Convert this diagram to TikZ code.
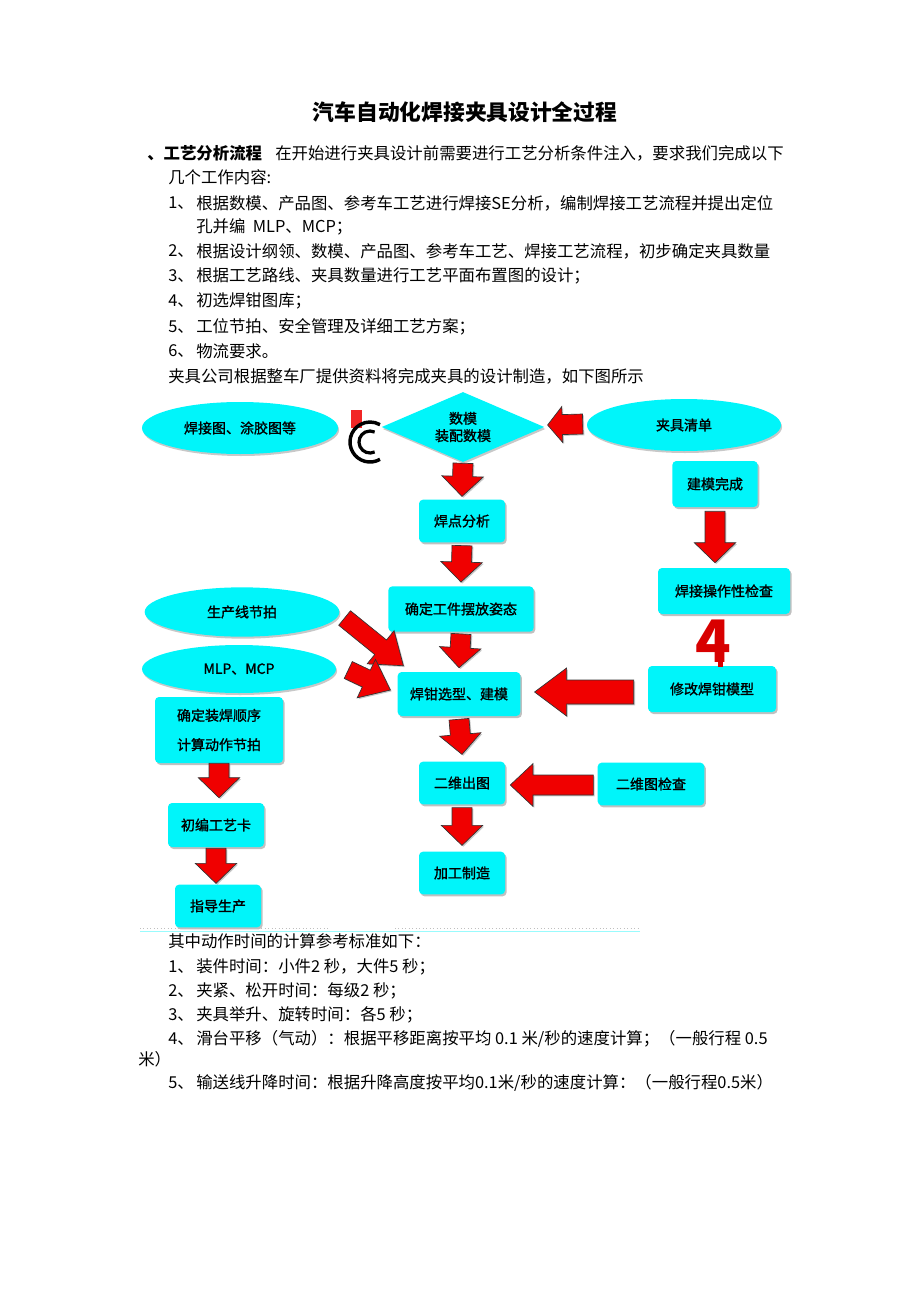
\documentclass[tikz,border=0pt]{standalone}
\usepackage{fontspec}
\newfontfamily\cjk{Noto Sans CJK SC}
\newfontfamily\cjkm[FakeBold=1.3]{Noto Sans CJK SC}
\usetikzlibrary{calc,shapes.geometric,shadows}
\definecolor{mycyan}{RGB}{0,245,250}
\definecolor{myred}{RGB}{240,0,0}
\newcommand{\blockarrow}[5]{%
  \path (#2) coordinate (ba-tip) ($(#2)!#5!(#1)$) coordinate (ba-base);
  \filldraw[redarrow]
   ($(#1)!#3!90:(#2)$) --
   ($(ba-base)!#3!90:(#2)$) --
   ($(ba-base)!#4!90:(#2)$) --
   (#2) --
   ($(ba-base)!#4!-90:(#2)$) --
   ($(ba-base)!#3!-90:(#2)$) --
   ($(#1)!#3!-90:(#2)$) -- cycle;}
\tikzset{
  txt/.style={anchor=west, inner sep=0, font=\cjk\fontsize{12.3}{14}\selectfont},
  boxst/.style={rectangle, rounded corners=3pt, fill=mycyan, inner sep=1pt,
     align=center, font=\cjkm\fontsize{10.5}{16}\selectfont,
     drop shadow={shadow xshift=1.2pt, shadow yshift=-1.5pt, opacity=0.35, fill=black!70}},
  ellst/.style={ellipse, fill=mycyan, inner sep=0pt,
     font=\cjkm\fontsize{10.5}{13}\selectfont,
     drop shadow={shadow xshift=0.8pt, shadow yshift=-1.5pt, opacity=0.3, fill=black!70}},
  redarrow/.style={fill=myred, draw=black!80, line width=0.5pt, line join=miter,
     drop shadow={shadow xshift=1pt, shadow yshift=-1pt, opacity=0.3, fill=black!70}},
}
\begin{document}
\begin{tikzpicture}[x=0.75pt,y=-0.75pt]
\useasboundingbox (0,0) rectangle (920,1302);
\fill[white] (0,0) rectangle (920,1302);

% ---------- title and top text ----------
\node[inner sep=0, font=\cjk\bfseries\fontsize{16.3}{18}\selectfont] (title) at (465,112) {汽车自动化焊接夹具设计全过程};
\node[txt, font=\cjk\bfseries\fontsize{12.3}{14}\selectfont] (t0) at (147,153) {、工艺分析流程};
\node[txt] (t0b) at (275,153) {在开始进行夹具设计前需要进行工艺分析条件注入，要求我们完成以下};
\node[txt] (t1) at (168,177) {几个工作内容:};
\node[txt] (n1) at (168,203) {1、};
\node[txt] (t2) at (196,203) {根据数模、产品图、参考车工艺进行焊接SE分析，编制焊接工艺流程并提出定位};
\node[txt] (t3) at (196,227) {孔并编\ \ MLP、MCP；};
\node[txt] (n2) at (168,251) {2、};
\node[txt] (t4) at (196,251) {根据设计纲领、数模、产品图、参考车工艺、焊接工艺流程，初步确定夹具数量};
\node[txt] (n3) at (168,276) {3、};
\node[txt] (t5) at (196,276) {根据工艺路线、夹具数量进行工艺平面布置图的设计；};
\node[txt] (n4) at (168,301) {4、};
\node[txt] (t6) at (196,301) {初选焊钳图库；};
\node[txt] (n5) at (168,327) {5、};
\node[txt] (t7) at (196,327) {工位节拍、安全管理及详细工艺方案；};
\node[txt] (n6) at (168,351) {6、};
\node[txt] (t8) at (196,351) {物流要求。};
\node[txt] (t9) at (168,376) {夹具公司根据整车厂提供资料将完成夹具的设计制造，如下图所示};

% ---------- diagram nodes ----------
\node[ellst, minimum width=147pt, minimum height=39pt] (eh) at (240,428) {焊接图、涂胶图等};
\node[diamond, fill=mycyan, inner sep=0pt, aspect=2.33, minimum width=122pt, minimum height=52.5pt,
      align=center, font=\cjkm\fontsize{10.5}{13}\selectfont,
      drop shadow={shadow xshift=0.8pt, shadow yshift=-1.5pt, opacity=0.3, fill=black!70}] (dm) at (463,427) {数模\\装配数模};
\node[ellst, minimum width=145.5pt, minimum height=39pt] (ej) at (684,425) {夹具清单};
\node[boxst, minimum width=64.5pt, minimum height=32pt] (hd) at (462,521) {焊点分析};
\node[boxst, minimum width=109pt, minimum height=34pt] (gz) at (461,609) {确定工件摆放姿态};
\node[boxst, minimum width=92pt, minimum height=33pt] (hq) at (459,694) {焊钳选型、建模};
\node[boxst, minimum width=64.5pt, minimum height=32pt] (ew) at (462,783) {二维出图};
\node[boxst, minimum width=64.5pt, minimum height=32pt] (jg) at (462,873) {加工制造};
\node[boxst, minimum width=64pt, minimum height=34.5pt] (jm) at (715,484) {建模完成};
\node[boxst, minimum width=99pt, minimum height=34.5pt] (hc) at (724,591) {焊接操作性检查};
\node[boxst, minimum width=96pt, minimum height=34.5pt] (xg) at (712,689) {修改焊钳模型};
\node[boxst, minimum width=80pt, minimum height=32pt] (ec) at (651,784) {二维图检查};
\node[ellst, minimum width=146pt, minimum height=37pt] (ep) at (242,612) {生产线节拍};
\node[ellst, minimum width=145.5pt, minimum height=36pt] (em) at (239,669) {MLP、MCP};
\node[boxst, minimum width=96pt, minimum height=49.5pt, font=\cjkm\fontsize{10.5}{22}\selectfont] (qd) at (219,730) {确定装焊顺序\\计算动作节拍};
\node[boxst, minimum width=72pt, minimum height=33pt] (cb) at (216,825) {初编工艺卡};
\node[boxst, minimum width=64.5pt, minimum height=32pt] (zd) at (218,906) {指导生产};

% stray marks of the scan
\fill[myred!90!black] (718,650) rectangle (723,667);
\node[inner sep=0, text=myred!90!black, font=\cjk\bfseries\fontsize{44}{44}\selectfont] (four) at (713,641) {4};
\fill[myred, opacity=0.85] (351,410) rectangle (362,428);
\draw[line width=2.6pt] (370,442) ++(60:20) arc[start angle=60, end angle=300, radius=20];
\draw[line width=2.4pt] (370,442) ++(65:11) arc[start angle=65, end angle=295, radius=11];
\draw[black!25, dotted, line width=0.6pt] (140,928) -- (330,928);
\draw[black!25, dotted, line width=0.6pt] (395,928) -- (640,928);
\draw[mycyan!40, line width=0.5pt] (140,931) -- (640,931);

% ---------- arrows ----------
\coordinate (a1s) at ($(dm.south)+(0,1)$);
\coordinate (a1e) at ($(hd.north)+(0,-3)$);
\blockarrow{a1s}{a1e}{7.5pt}{15.5pt}{15pt}
\coordinate (a2s) at ($(hd.south)+(0,3)$);
\coordinate (a2e) at ($(gz.north)+(0,-4)$);
\blockarrow{a2s}{a2e}{7.5pt}{15.5pt}{15pt}
\coordinate (a3s) at ($(gz.south)+(0,2)$);
\coordinate (a3e) at ($(hq.north)+(0,-4)$);
\blockarrow{a3s}{a3e}{7.5pt}{15.5pt}{15pt}
\coordinate (a4s) at ($(hq.south)+(0,3)$);
\coordinate (a4e) at ($(ew.north)+(0,-7)$);
\blockarrow{a4s}{a4e}{7.5pt}{15.5pt}{15pt}
\coordinate (a5s) at ($(ew.south)+(0,3)$);
\coordinate (a5e) at ($(jg.north)+(0,-6)$);
\blockarrow{a5s}{a5e}{7.5pt}{15.5pt}{15pt}
\coordinate (b1s) at ($(jm.south)+(0,4)$);
\coordinate (b1e) at ($(jm.south |- hc.north)+(0,-5)$);
\blockarrow{b1s}{b1e}{7.5pt}{15.5pt}{15pt}
\coordinate (c1s) at ($(qd.south)+(0,0)$);
\coordinate (c1e) at ($(qd.south |- cb.north)+(0,-5)$);
\blockarrow{c1s}{c1e}{7.5pt}{15.5pt}{15pt}
\coordinate (c2s) at ($(cb.south)+(0,1)$);
\coordinate (c2e) at ($(cb.south |- zd.north)+(0,-1)$);
\blockarrow{c2s}{c2e}{7.5pt}{15.5pt}{15pt}
\coordinate (h1s) at ($(ej.west)+(-4,-1)$);
\coordinate (h1e) at ($(dm.east)+(3,-2)$);
\blockarrow{h1s}{h1e}{7.5pt}{13.5pt}{11pt}
\coordinate (h2s) at ($(xg.west)+(-14,3)$);
\coordinate (h2e) at ($(hq.east)+(14,-2)$);
\blockarrow{h2s}{h2e}{9pt}{18pt}{24pt}
\coordinate (h3s) at ($(ec.west)+(-4,1)$);
\coordinate (h3e) at ($(ew.east)+(5,2)$);
\blockarrow{h3s}{h3e}{7.5pt}{16pt}{17pt}
\coordinate (d1s) at ($(ep.east)+(5,6)$);
\coordinate (d1e) at ($(hq.north west)+(6,-6)$);
\blockarrow{d1s}{d1e}{7pt}{16pt}{22pt}
\coordinate (d2s) at ($(em.east)+(12,1)$);
\coordinate (d2e) at ($(hq.west)+(-7,-4)$);
\blockarrow{d2s}{d2e}{7pt}{16pt}{20pt}

% ---------- bottom text ----------
\node[txt] (b0) at (168,941) {其中动作时间的计算参考标准如下：};
\node[txt] (m1) at (168,967) {1、};
\node[txt] (b1) at (196,967) {装件时间：小件2 秒，大件5 秒；};
\node[txt] (m2) at (168,991) {2、};
\node[txt] (b2) at (196,991) {夹紧、松开时间：每级2 秒；};
\node[txt] (m3) at (168,1015) {3、};
\node[txt] (b3) at (196,1015) {夹具举升、旋转时间：各5 秒；};
\node[txt] (m4) at (168,1039) {4、};
\node[txt] (b4) at (196,1039) {滑台平移（气动）：根据平移距离按平均\ 0.1 米/秒的速度计算；（一般行程\ 0.5};
\node[txt] (b4b) at (138,1059) {米）};
\node[txt] (m5) at (168,1083) {5、};
\node[txt] (b5) at (196,1083) {输送线升降时间：根据升降高度按平均0.1米/秒的速度计算：（一般行程0.5米）};
\end{tikzpicture}
\end{document}
